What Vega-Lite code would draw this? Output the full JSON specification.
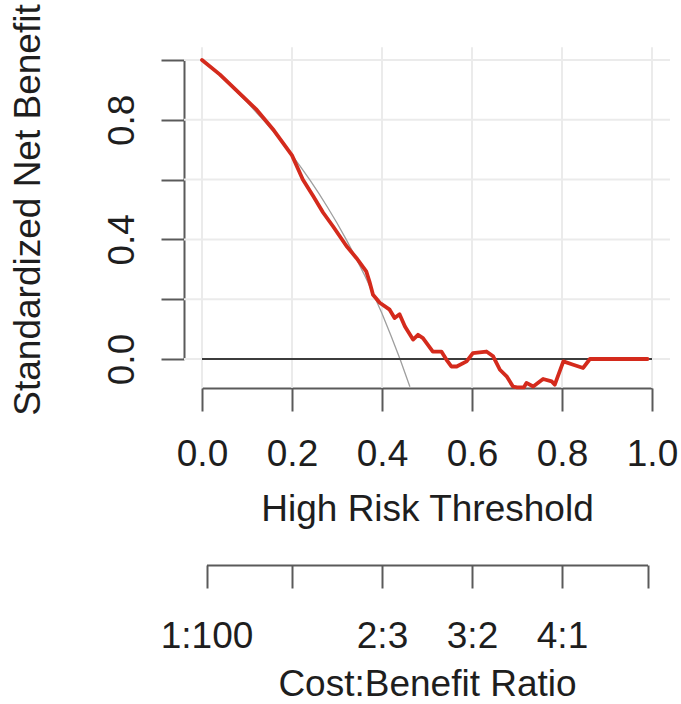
{
  "$schema": "https://vega.github.io/schema/vega-lite/v6.json",
  "width": 450,
  "height": 299,
  "autosize": {"type": "none"},
  "padding": {"left": 202, "top": 60, "right": 29, "bottom": 345},
  "background": "white",
  "config": {
    "view": {"stroke": null},
    "font": "Liberation Sans",
    "axis": {
      "labelFont": "Liberation Sans",
      "titleFont": "Liberation Sans",
      "labelFontSize": 37,
      "titleFontSize": 37,
      "titleFontWeight": "normal",
      "labelColor": "#1e1e1e",
      "titleColor": "#1e1e1e",
      "domainColor": "#5a5a5a",
      "domainWidth": 2,
      "tickColor": "#5a5a5a",
      "tickWidth": 2,
      "tickSize": 23,
      "grid": false,
      "labelOverlap": false,
      "labelFlush": false,
      "labelBound": false
    }
  },
  "datasets": {
    "model": [
      {"t": 0, "nb": 1.0}, {"t": 0.04, "nb": 0.951}, {"t": 0.08, "nb": 0.893}, {"t": 0.12, "nb": 0.836},
      {"t": 0.16, "nb": 0.764}, {"t": 0.2, "nb": 0.681}, {"t": 0.224, "nb": 0.6}, {"t": 0.247, "nb": 0.545},
      {"t": 0.269, "nb": 0.49}, {"t": 0.291, "nb": 0.444}, {"t": 0.321, "nb": 0.378}, {"t": 0.343, "nb": 0.338},
      {"t": 0.365, "nb": 0.293}, {"t": 0.372, "nb": 0.26}, {"t": 0.38, "nb": 0.215}, {"t": 0.395, "nb": 0.188},
      {"t": 0.417, "nb": 0.165}, {"t": 0.428, "nb": 0.137}, {"t": 0.439, "nb": 0.15}, {"t": 0.451, "nb": 0.109},
      {"t": 0.469, "nb": 0.065}, {"t": 0.48, "nb": 0.081}, {"t": 0.491, "nb": 0.07}, {"t": 0.513, "nb": 0.025},
      {"t": 0.532, "nb": 0.025}, {"t": 0.543, "nb": -0.002}, {"t": 0.554, "nb": -0.025}, {"t": 0.566, "nb": -0.025},
      {"t": 0.588, "nb": -0.008}, {"t": 0.602, "nb": 0.02}, {"t": 0.632, "nb": 0.025}, {"t": 0.647, "nb": 0.009},
      {"t": 0.662, "nb": -0.036}, {"t": 0.677, "nb": -0.058}, {"t": 0.691, "nb": -0.092}, {"t": 0.7, "nb": -0.095},
      {"t": 0.715, "nb": -0.095}, {"t": 0.721, "nb": -0.08}, {"t": 0.736, "nb": -0.092}, {"t": 0.758, "nb": -0.067},
      {"t": 0.777, "nb": -0.075}, {"t": 0.784, "nb": -0.086}, {"t": 0.803, "nb": -0.008}, {"t": 0.825, "nb": -0.019},
      {"t": 0.847, "nb": -0.03}, {"t": 0.862, "nb": 0}, {"t": 0.99, "nb": 0}
    ],
    "all": [
      {"t": 0, "nb": 1.0}, {"t": 0.02, "nb": 0.974}, {"t": 0.04, "nb": 0.947}, {"t": 0.06, "nb": 0.919},
      {"t": 0.08, "nb": 0.889}, {"t": 0.1, "nb": 0.859}, {"t": 0.12, "nb": 0.826}, {"t": 0.14, "nb": 0.793},
      {"t": 0.16, "nb": 0.758}, {"t": 0.18, "nb": 0.721}, {"t": 0.2, "nb": 0.682}, {"t": 0.22, "nb": 0.641},
      {"t": 0.24, "nb": 0.598}, {"t": 0.26, "nb": 0.553}, {"t": 0.28, "nb": 0.505}, {"t": 0.3, "nb": 0.455},
      {"t": 0.32, "nb": 0.401}, {"t": 0.34, "nb": 0.344}, {"t": 0.36, "nb": 0.284}, {"t": 0.38, "nb": 0.22},
      {"t": 0.4, "nb": 0.152}, {"t": 0.42, "nb": 0.078}, {"t": 0.44, "nb": 0.0}, {"t": 0.462, "nb": -0.093}
    ],
    "none": [{"t": 0, "nb": 0}, {"t": 1, "nb": 0}],
    "hgrid": [{"nb": 0}, {"nb": 0.2}, {"nb": 0.4}, {"nb": 0.6}, {"nb": 0.8}, {"nb": 1.0}],
    "vgrid": [{"t": 0}, {"t": 0.2}, {"t": 0.4}, {"t": 0.6}, {"t": 0.8}, {"t": 1.0}],
    "cb": [
      {"t": 0.01, "ratio": "1:100"}, {"t": 0.2, "ratio": ""}, {"t": 0.4, "ratio": "2:3"},
      {"t": 0.6, "ratio": "3:2"}, {"t": 0.8, "ratio": "4:1"}, {"t": 0.99, "ratio": ""}
    ]
  },
  "layer": [
    {
      "data": {"name": "hgrid"},
      "mark": {"type": "rule", "color": "#ebebeb", "strokeWidth": 2, "clip": false},
      "encoding": {
        "x": {"datum": -0.04, "type": "quantitative", "scale": {"domain": [0, 1], "nice": false, "zero": false}, "axis": null},
        "x2": {"datum": 1.04},
        "y": {"field": "nb", "type": "quantitative", "scale": {"domain": [0, 1], "nice": false, "zero": false}}
      }
    },
    {
      "data": {"name": "vgrid"},
      "mark": {"type": "rule", "color": "#ebebeb", "strokeWidth": 2, "clip": false},
      "encoding": {
        "x": {"field": "t", "type": "quantitative", "scale": {"domain": [0, 1], "nice": false, "zero": false}, "axis": null},
        "y": {"datum": -0.096, "type": "quantitative", "scale": {"domain": [0, 1], "nice": false, "zero": false}},
        "y2": {"datum": 1.043}
      }
    },
    {
      "data": {"name": "all"},
      "mark": {"type": "line", "color": "#9e9e9e", "strokeWidth": 1.3, "clip": false},
      "encoding": {
        "x": {"field": "t", "type": "quantitative", "scale": {"domain": [0, 1], "nice": false, "zero": false}, "axis": null},
        "y": {"field": "nb", "type": "quantitative", "scale": {"domain": [0, 1], "nice": false, "zero": false}}
      }
    },
    {
      "data": {"name": "none"},
      "mark": {"type": "line", "color": "#3c3c3c", "strokeWidth": 2, "clip": false},
      "encoding": {
        "x": {"field": "t", "type": "quantitative", "scale": {"domain": [0, 1], "nice": false, "zero": false}, "axis": null},
        "y": {"field": "nb", "type": "quantitative", "scale": {"domain": [0, 1], "nice": false, "zero": false}}
      }
    },
    {
      "data": {"name": "model"},
      "mark": {"type": "line", "color": "#d42a1c", "strokeWidth": 3.8, "strokeJoin": "round", "strokeCap": "round", "clip": false},
      "encoding": {
        "x": {
          "field": "t", "type": "quantitative",
          "scale": {"domain": [0, 1], "nice": false, "zero": false},
          "axis": {
            "orient": "bottom", "offset": 29, "values": [0, 0.2, 0.4, 0.6, 0.8, 1.0], "format": ".1f",
            "labelPadding": 25, "title": "High Risk Threshold", "titlePadding": 19
          }
        },
        "y": {
          "field": "nb", "type": "quantitative",
          "scale": {"domain": [0, 1], "nice": false, "zero": false},
          "axis": {
            "orient": "left", "offset": 18, "values": [0, 0.2, 0.4, 0.6, 0.8, 1.0],
            "labelExpr": "(datum.value == 0 || datum.value == 0.4 || datum.value == 0.8) ? format(datum.value, '.1f') : ''",
            "labelAngle": -90, "labelAlign": "center", "labelBaseline": "bottom", "labelPadding": 20,
            "title": "Standardized Net Benefit", "titlePadding": 56, "titleBaseline": "bottom"
          }
        }
      }
    },
    {
      "data": {"name": "cb"},
      "mark": {"type": "point", "opacity": 0},
      "encoding": {
        "x": {
          "field": "t", "type": "quantitative",
          "scale": {"domain": [0.01, 0.99], "range": [4.5, 445.5], "nice": false, "zero": false},
          "axis": {
            "orient": "bottom", "offset": 206, "values": [0.01, 0.2, 0.4, 0.6, 0.8, 0.99],
            "labelExpr": "datum.value == 0.01 ? '1:100' : datum.value == 0.4 ? '2:3' : datum.value == 0.6 ? '3:2' : datum.value == 0.8 ? '4:1' : ''",
            "labelPadding": 30, "title": "Cost:Benefit Ratio", "titlePadding": 12
          }
        }
      }
    }
  ],
  "resolve": {"scale": {"x": "independent"}, "axis": {"x": "independent"}}
}
